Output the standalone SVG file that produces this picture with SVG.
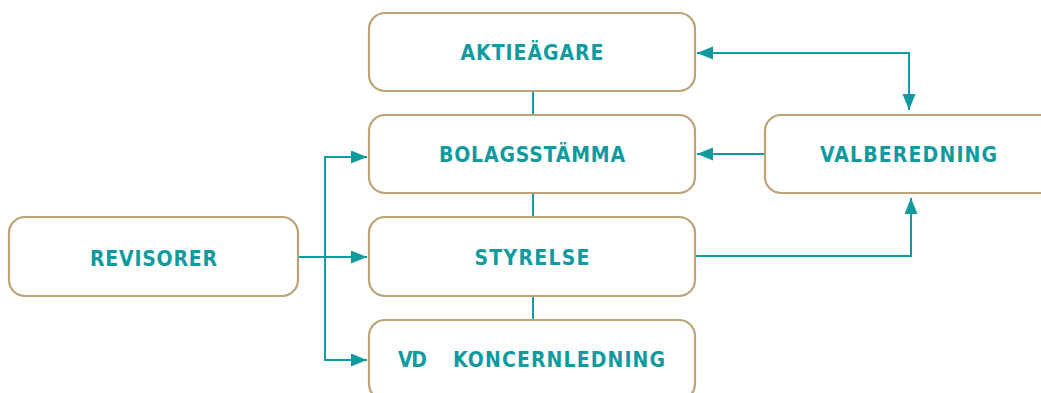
<svg xmlns="http://www.w3.org/2000/svg" width="1041" height="393" viewBox="0 0 1041 393">
<style>
.box{fill:#fff;stroke:#BBA476;stroke-width:2.2}
.lbl{font-family:"DejaVu Sans Condensed","DejaVu Sans",sans-serif;font-weight:bold;font-size:21px;fill:#0E9A9E;text-anchor:middle}
.con{fill:none;stroke:#0E9A9E;stroke-width:2}
</style>
<defs>
<marker id="ah" markerUnits="userSpaceOnUse" markerWidth="18" markerHeight="14" refX="16" refY="6.5" orient="auto-start-reverse" viewBox="0 0 18 14">
<path d="M0,0 L16,6.5 L0,13 Z" fill="#0E9A9E"/>
</marker>
</defs>
<g id="connectors">
<line class="con" x1="533" y1="91" x2="533" y2="115"/>
<line class="con" x1="533" y1="193" x2="533" y2="217"/>
<line class="con" x1="533" y1="296" x2="533" y2="320"/>
<line class="con" x1="298" y1="257" x2="367" y2="257" marker-end="url(#ah)"/>
<polyline class="con" points="367,157 325,157 325,360 367,360" marker-start="url(#ah)" marker-end="url(#ah)"/>
<line class="con" x1="765" y1="154" x2="697" y2="154" marker-end="url(#ah)"/>
<polyline class="con" points="697,53 909,53 909,110" marker-start="url(#ah)" marker-end="url(#ah)"/>
<polyline class="con" points="695,256 911,256 911,198" marker-end="url(#ah)"/>
</g>
<g id="aktieagare">
<rect class="box" x="369" y="13" width="326" height="78" rx="16"/>
<text class="lbl" x="532" y="60" textLength="143">AKTIEÄGARE</text>
</g>
<g id="bolagsstamma">
<rect class="box" x="369" y="115" width="326" height="78" rx="16"/>
<text class="lbl" x="532" y="162" textLength="186">BOLAGSSTÄMMA</text>
</g>
<g id="styrelse">
<rect class="box" x="369" y="217" width="326" height="79" rx="16"/>
<text class="lbl" x="532" y="265" textLength="115">STYRELSE</text>
</g>
<g id="vd">
<rect class="box" x="369" y="320" width="326" height="80" rx="16"/>
<text class="lbl" x="412.5" y="367" textLength="29">VD</text>
<text class="lbl" x="559" y="367" textLength="212">KONCERNLEDNING</text>
</g>
<g id="revisorer">
<rect class="box" x="9" y="217" width="289" height="79" rx="16"/>
<text class="lbl" x="153.5" y="266" textLength="127">REVISORER</text>
</g>
<g id="valberedning">
<rect class="box" x="765" y="115" width="300" height="78" rx="16"/>
<text class="lbl" x="908.5" y="162" textLength="177">VALBEREDNING</text>
</g>
</svg>
